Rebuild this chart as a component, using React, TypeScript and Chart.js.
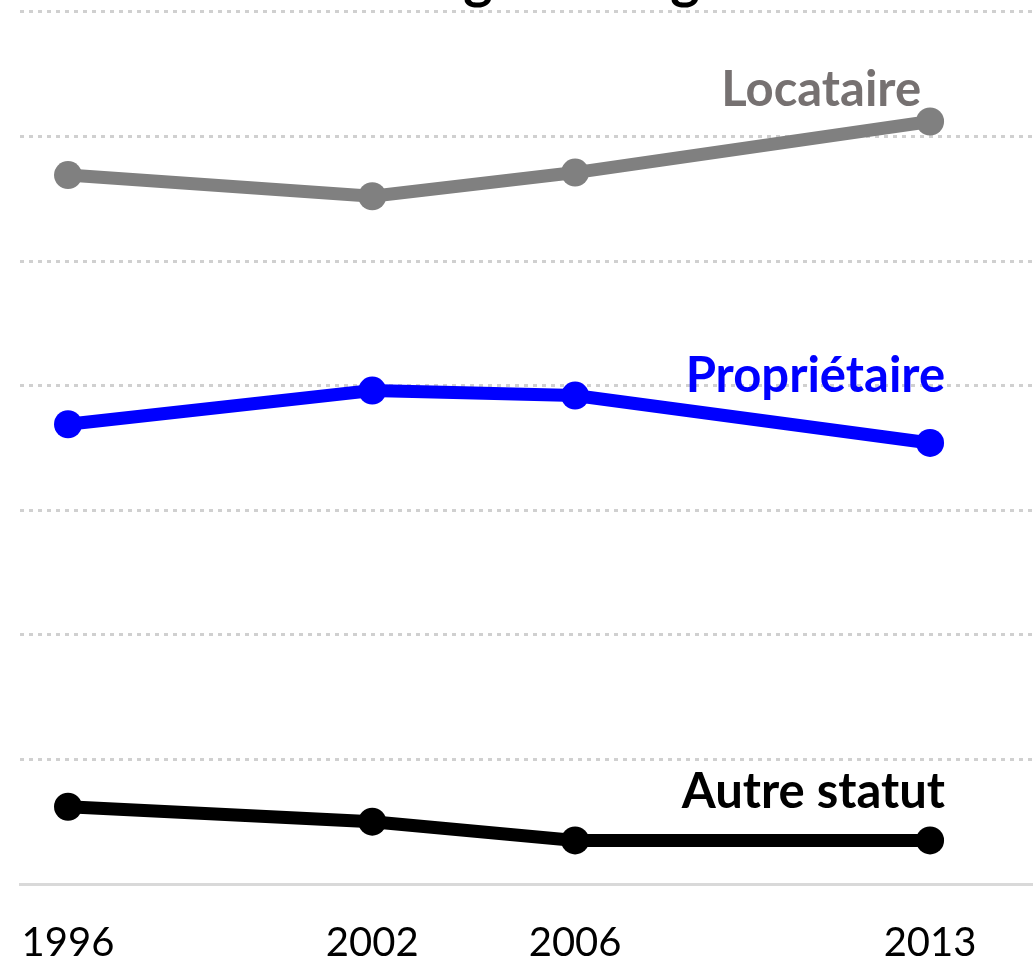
import React, { useEffect, useRef } from "react";
import { Chart, registerables } from "chart.js";

Chart.register(...registerables);

const years = [1996, 2002, 2006, 2013];
const locataire = [56.9, 55.2, 57.1, 61.2];
const proprietaire = [36.9, 39.6, 39.2, 35.4];
const autreStatut = [6.2, 5.0, 3.5, 3.5];
const gridValues = [10, 20, 30, 40, 50, 60, 70];
const titleText = "Ménages et logement";

const seriesNames = ["Locataire", "Propriétaire", "Autre statut"];
const lineColors = ["#808080", "#0000ff", "#000000"];
const labelColors = ["#767171", "#0000ff", "#000000"];
// label offsets from the last point of each series (px)
const labelOffsets = [
  { dx: -9, dy: -15 },
  { dx: 15, dy: -51 },
  { dx: 15, dy: -32 },
];

const FONT = "Lato, 'Open Sans', sans-serif";

const toPoints = (vals: number[]) => vals.map((v, i) => ({ x: years[i], y: v }));

const labelsPlugin = {
  id: "seriesLabels",
  afterDatasetsDraw(chart: any) {
    const ctx = chart.ctx;
    ctx.save();
    ctx.font = `bold 49px ${FONT}`;
    ctx.textAlign = "right";
    ctx.textBaseline = "alphabetic";
    chart.data.datasets.forEach((ds: any, i: number) => {
      const meta = chart.getDatasetMeta(i);
      const last = meta.data[meta.data.length - 1];
      ctx.fillStyle = labelColors[i];
      ctx.fillText(seriesNames[i], last.x + labelOffsets[i].dx, last.y + labelOffsets[i].dy);
    });
    ctx.restore();
  },
};

const titlePlugin = {
  id: "cutTitle",
  afterDraw(chart: any) {
    const ctx = chart.ctx;
    ctx.save();
    ctx.font = `bold 56px ${FONT}`;
    ctx.fillStyle = "#000";
    ctx.textAlign = "left";
    ctx.textBaseline = "alphabetic";
    const pre = ctx.measureText("Ména").width;
    const g = ctx.measureText("g").width;
    ctx.fillText(titleText, 478 - pre - g / 2, -2);
    ctx.restore();
  },
};

export default function App() {
  const ref = useRef<HTMLCanvasElement | null>(null);
  useEffect(() => {
    document.body.style.margin = "0";
    if (!ref.current) return;
    const chart = new Chart(ref.current, {
      type: "line",
      data: {
        datasets: [locataire, proprietaire, autreStatut].map((vals, i) => ({
          label: seriesNames[i],
          data: toPoints(vals),
          borderColor: lineColors[i],
          backgroundColor: lineColors[i],
          pointBackgroundColor: lineColors[i],
          pointBorderWidth: 0,
          pointRadius: 14,
          pointHoverRadius: 14,
          borderWidth: 13,
          tension: 0,
          fill: false,
        })),
      },
      options: {
        animation: false,
        responsive: false,
        maintainAspectRatio: false,
        layout: { autoPadding: false, padding: { left: 20, right: 0, top: 0, bottom: 0 } },
        plugins: {
          legend: { display: false },
          title: { display: false },
          tooltip: { enabled: false },
        },
        scales: {
          x: {
            type: "linear",
            min: 1995.053,
            max: 2015.03,
            grid: { display: false, drawTicks: true, tickLength: 35 },
            border: { display: true, color: "#d9d9d9", width: 3 },
            afterBuildTicks: (scale: any) => {
              scale.ticks = years.map((y) => ({ value: y }));
            },
            afterFit: (scale: any) => {
              scale.height = 86;
            },
            ticks: {
              autoSkip: false,
              maxRotation: 0,
              padding: 0,
              color: "#000",
              font: { family: FONT, size: 40 },
              callback: (v: any) => String(v),
            },
          },
          y: {
            min: 0,
            max: 70.95,
            afterBuildTicks: (scale: any) => {
              scale.ticks = gridValues.map((v) => ({ value: v }));
            },
            afterFit: (scale: any) => {
              scale.width = 0;
            },
            ticks: { display: false },
            grid: { color: "#d0d0d0", lineWidth: 3, drawTicks: false },
            border: { display: false, dash: [4, 5] },
          },
        },
      },
      plugins: [labelsPlugin, titlePlugin],
    });
    return () => chart.destroy();
  }, []);
  return (
    <div style={{ position: "absolute", left: 0, top: 0, width: 1033, height: 970 }}>
      <canvas ref={ref} width={1033} height={970} />
    </div>
  );
}
